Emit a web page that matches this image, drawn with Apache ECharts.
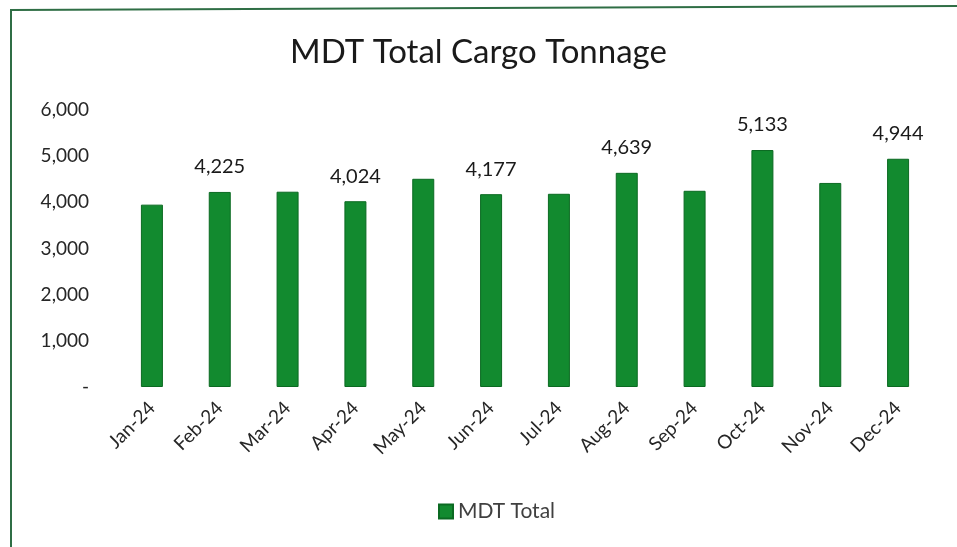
<!DOCTYPE html>
<html>
<head>
<meta charset="utf-8">
<script src="https://cdn.jsdelivr.net/npm/echarts@6/dist/echarts.min.js"></script>
<style>
	html, body { margin: 0; padding: 0; background: #fff; }
	#cargo-tonnage { width: 957px; height: 547px; }
</style>
</head>
<body>
<div id="cargo-tonnage"></div>
<script>
var months = ['Jan-24', 'Feb-24', 'Mar-24', 'Apr-24', 'May-24', 'Jun-24', 'Jul-24', 'Aug-24', 'Sep-24', 'Oct-24', 'Nov-24', 'Dec-24'];
var mdtTotal = [3950, 4225, 4230, 4024, 4510, 4177, 4185, 4639, 4250, 5133, 4420, 4944];
// only every other month carries a data label in the original
var labelled = [false, true, false, true, false, true, false, true, false, true, false, true];

var fontFamily = 'Lato, "Open Sans", sans-serif';

var cargoChart = echarts.init(document.getElementById('cargo-tonnage'));
var option = {
	backgroundColor: '#fff',
	textStyle: {
		fontFamily: fontFamily
	},
	title: {
		text: 'MDT Total Cargo Tonnage',
		left: 'center',
		top: 31,
		textStyle: {
			fontFamily: fontFamily,
			fontSize: 33,
			fontWeight: 'normal',
			color: '#1a1a1a'
		}
	},
	graphic: [{
		type: 'polyline',
		shape: {
			points: [[11, 547], [11, 10], [957, 6]]
		},
		style: {
			stroke: '#2f6e45',
			lineWidth: 2,
			fill: null
		}
	}],
	grid: {
		left: 118,
		right: 25,
		top: 110,
		bottom: 160
	},
	legend: {
		bottom: 20,
		left: 433,
		icon: 'rect',
		itemWidth: 14,
		itemHeight: 14,
		itemGap: 6,
		data: ['MDT Total'],
		textStyle: {
			fontFamily: fontFamily,
			fontSize: 21,
			color: '#404040'
		}
	},
	xAxis: {
		type: 'category',
		data: months,
		axisLine: { show: false },
		axisTick: { show: false },
		axisLabel: {
			rotate: 45,
			margin: 18,
			interval: 0,
			fontFamily: fontFamily,
			fontSize: 19,
			color: '#262626'
		}
	},
	yAxis: {
		type: 'value',
		min: 0,
		max: 6000,
		interval: 1000,
		splitLine: { show: false },
		axisLine: { show: false },
		axisTick: { show: false },
		axisLabel: {
			margin: 29,
			fontFamily: fontFamily,
			fontSize: 19,
			color: '#262626',
			formatter: function(value) {
				if (value === 0) {
					return '-';
				}
				return value.toLocaleString('en-US');
			}
		}
	},
	series: [{
		name: 'MDT Total',
		type: 'bar',
		barWidth: 22,
		data: mdtTotal.map(function(v, i) {
			return {
				value: v,
				label: { show: labelled[i] }
			};
		}),
		itemStyle: {
			color: '#128a2f',
			borderColor: '#0b6a22',
			borderWidth: 1
		},
		label: {
			position: 'top',
			distance: 15,
			fontFamily: fontFamily,
			fontSize: 20,
			color: '#1a1a1a',
			formatter: function(params) {
				return params.value.toLocaleString('en-US');
			}
		}
	}]
};
cargoChart.setOption(option);
</script>
</body>
</html>
